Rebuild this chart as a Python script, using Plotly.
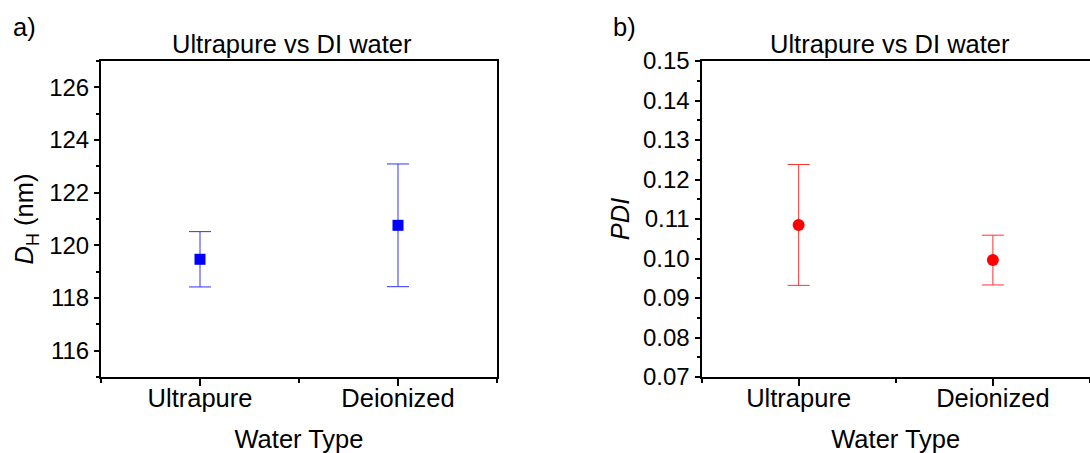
import plotly.graph_objects as go

# ---- data ----
categories = ["Ultrapure", "Deionized"]
dh_mean = [119.47, 120.76]
dh_err = [1.05, 2.33]
pdi_mean = [0.1085, 0.0996]
pdi_err = [0.0153, 0.0063]
dh_ticks = [116, 118, 120, 122, 124, 126]
pdi_ticks = [0.07, 0.08, 0.09, 0.10, 0.11, 0.12, 0.13, 0.14, 0.15]
panel_title = "Ultrapure vs DI water"
x_title = "Water Type"

W, H = 1090, 453
FONT = "Liberation Sans, Arial, sans-serif"
FS_NUM = 24
FS_TXT = 25.5

xpos = list(range(len(categories)))

fig = go.Figure()
fig.add_trace(go.Scatter(
    x=xpos, y=dh_mean, mode="markers",
    marker=dict(symbol="square", size=11, color="#0000FF"),
    error_y=dict(type="data", array=dh_err, color="#3333FF", thickness=1, width=11),
    xaxis="x", yaxis="y", showlegend=False))
fig.add_trace(go.Scatter(
    x=xpos, y=pdi_mean, mode="markers",
    marker=dict(symbol="circle", size=12, color="#FF0000"),
    error_y=dict(type="data", array=pdi_err, color="#FF3333", thickness=1, width=11),
    xaxis="x2", yaxis="y2", showlegend=False))

ydom = [76 / H, 392 / H]

def xax(domain, mirror, anchor):
    return dict(
        domain=domain, anchor=anchor, range=[-0.5, 1.5],
        tickmode="array", tickvals=xpos, ticktext=categories,
        ticks="outside", ticklen=7, tickwidth=1.5, tickcolor="black",
        minor=dict(tickvals=[-0.5, 0.5, 1.5], ticks="outside", ticklen=4,
                   tickwidth=1.5, tickcolor="black"),
        showline=True, linecolor="black", linewidth=2, mirror=mirror,
        showgrid=False, zeroline=False,
        ticklabelstandoff=-10,
        tickfont=dict(family=FONT, size=FS_TXT, color="black"),
        title=dict(text=x_title, font=dict(family=FONT, size=FS_TXT, color="black"), standoff=22),
        automargin=False,
    )

def yax(domain, rng, ticks, minor_dtick, title, mirror, anchor, fmt, standoff):
    return dict(
        domain=domain, anchor=anchor, range=rng,
        tickmode="array", tickvals=ticks, tickformat=fmt,
        ticks="outside", ticklen=5, tickwidth=1.5, tickcolor="black",
        minor=dict(dtick=minor_dtick, ticks="outside", ticklen=3,
                   tickwidth=1.5, tickcolor="black"),
        showline=True, linecolor="black", linewidth=2, mirror=mirror,
        showgrid=False, zeroline=False,
        tickfont=dict(family=FONT, size=FS_NUM, color="black"),
        title=dict(text=title, font=dict(family=FONT, size=FS_TXT, color="black"), standoff=standoff),
        automargin=False,
    )

fig.update_layout(
    width=W, height=H,
    margin=dict(l=0, r=0, t=0, b=0),
    paper_bgcolor="white", plot_bgcolor="white",
    font=dict(family=FONT, size=FS_TXT, color="black"),
    xaxis=xax([101 / W, 497 / W], True, "y"),
    yaxis=yax(ydom, [115, 127], dh_ticks, 1, "<i>D</i><sub>H</sub> (nm)", True, "x", "d", 8),
    xaxis2=xax([701.5 / W, 1.0], True, "y2"),
    yaxis2=yax(ydom, [0.07, 0.15], pdi_ticks, 0.005, "<i>PDI</i>", False, "x2", ".2f", 6),
    annotations=[
        dict(text=panel_title, x=292 / W, y=1 - 44 / H, xref="paper", yref="paper",
             xanchor="center", yanchor="middle", showarrow=False,
             font=dict(family=FONT, size=FS_TXT, color="black")),
        dict(text=panel_title, x=890 / W, y=1 - 44 / H, xref="paper", yref="paper",
             xanchor="center", yanchor="middle", showarrow=False,
             font=dict(family=FONT, size=FS_TXT, color="black")),
        dict(text="a)", x=24 / W, y=1 - 27 / H, xref="paper", yref="paper",
             xanchor="center", yanchor="middle", showarrow=False,
             font=dict(family=FONT, size=FS_TXT, color="black")),
        dict(text="b)", x=624 / W, y=1 - 27 / H, xref="paper", yref="paper",
             xanchor="center", yanchor="middle", showarrow=False,
             font=dict(family=FONT, size=FS_TXT, color="black")),
    ],
)

fig.write_html("out.html")
